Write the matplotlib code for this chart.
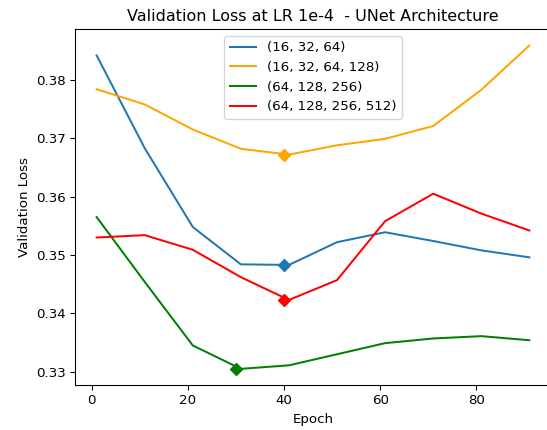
import matplotlib
matplotlib.use("Agg")
import matplotlib.pyplot as plt
import numpy as np

epochs = [1, 11, 21, 31, 41, 51, 61, 71, 81, 91]

labels = ["(16, 32, 64)", "(16, 32, 64, 128)", "(64, 128, 256)", "(64, 128, 256, 512)"]
colors = ["tab:blue", "orange", "green", "red"]

loss_16_32_64 = [0.3842, 0.3683, 0.3548, 0.3484, 0.3483, 0.3522, 0.3539, 0.3524, 0.3508, 0.3496]
loss_16_32_64_128 = [0.3784, 0.3758, 0.3715, 0.3682, 0.3672, 0.3688, 0.3699, 0.3721, 0.3783, 0.3859]
loss_64_128_256 = [0.3565, 0.3454, 0.3345, 0.3305, 0.3311, 0.3330, 0.3349, 0.3357, 0.3361, 0.3354]
loss_64_128_256_512 = [0.3530, 0.3534, 0.3509, 0.3462, 0.3423, 0.3457, 0.3558, 0.3605, 0.3571, 0.3542]

series = [loss_16_32_64, loss_16_32_64_128, loss_64_128_256, loss_64_128_256_512]

DPI = 96
fig = plt.figure(figsize=(547 / DPI, 430 / DPI), dpi=DPI)
ax = fig.add_axes([75 / 547, 45 / 430, 476 / 547, 355.7 / 430])

for vals, lab, col in zip(series, labels, colors):
    ax.plot(epochs, vals, color=col, label=lab)
    best = int(np.argmin(vals))
    ax.plot(best * 10, vals[best], marker="D", color=col, markersize=6)

# the plot area runs past the right edge of the canvas
ax.spines["right"].set_visible(False)

ax.set_title("Validation Loss at LR 1e-4  - UNet Architecture")
ax.set_xlabel("Epoch")
ax.set_ylabel("Validation Loss")
ax.legend(loc="upper center")

fig.savefig("out.png", dpi=DPI)
